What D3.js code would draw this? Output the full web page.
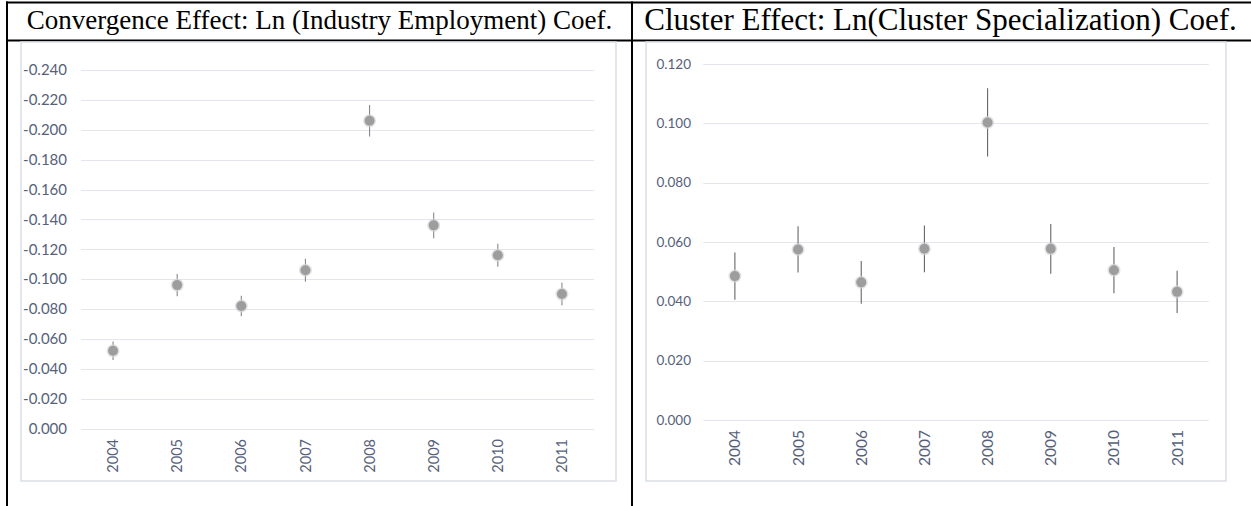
<!DOCTYPE html>
<html>
<head>
<meta charset="utf-8">
<script src="https://cdn.jsdelivr.net/npm/d3@7"></script>
<style>
  html, body { margin: 0; padding: 0; background: #fff; }
  svg { display: block; }
</style>
</head>
<body>
<svg id="fig" width="1251" height="506"></svg>
<script>
// Regression coefficients by year, with half-width of the error bars
const years = ["2004", "2005", "2006", "2007", "2008", "2009", "2010", "2011"];

const convergenceCoef = [-0.052, -0.096, -0.082, -0.106, -0.206, -0.136, -0.116, -0.090];
const convergenceErr  = [0.0062, 0.0074, 0.0068, 0.0077, 0.0106, 0.0086, 0.0077, 0.0075];
const convergenceTicks = [0, -0.02, -0.04, -0.06, -0.08, -0.10, -0.12, -0.14, -0.16, -0.18, -0.20, -0.22, -0.24];

const clusterCoef = [0.0485, 0.0575, 0.0464, 0.0577, 0.1003, 0.0577, 0.0505, 0.0432];
const clusterErr  = [0.0080, 0.0078, 0.0072, 0.0079, 0.0115, 0.0084, 0.0078, 0.0071];
const clusterTicks = [0, 0.02, 0.04, 0.06, 0.08, 0.10, 0.12];

const titles = [
  "Convergence Effect: Ln (Industry Employment) Coef.",
  "Cluster Effect: Ln(Cluster Specialization) Coef."
];

const svg = d3.select("#fig");
const fmt = d => d3.format(".3f")(d).replace("\u2212", "-");

// ---- table frame around the two charts ----
const table = svg.append("g").attr("stroke", "#000").attr("stroke-width", 2);
table.append("line").attr("x1", 6).attr("x2", 1251).attr("y1", 2.5).attr("y2", 2.5);
table.append("line").attr("x1", 6).attr("x2", 1251).attr("y1", 40.5).attr("y2", 40.5);
table.append("line").attr("x1", 7).attr("x2", 7).attr("y1", 1.5).attr("y2", 506);
table.append("line").attr("x1", 632).attr("x2", 632).attr("y1", 1.5).attr("y2", 506);

const titleLayout = [
  { x: 319.5, y: 28.5, size: 27 },
  { x: 940.5, y: 29.5, size: 31 }
];
titles.forEach((t, i) => {
  svg.append("text")
    .attr("x", titleLayout[i].x).attr("y", titleLayout[i].y)
    .attr("text-anchor", "middle")
    .attr("font-family", "'Liberation Serif', 'Times New Roman', serif")
    .attr("font-size", titleLayout[i].size)
    .attr("fill", "#000")
    .text(t);
});

// ---- one coefficient chart ----
function drawChart(cfg) {
  const g = svg.append("g");

  // chart area border
  g.append("rect")
    .attr("x", cfg.frame[0]).attr("y", cfg.frame[1])
    .attr("width", cfg.frame[2] - cfg.frame[0]).attr("height", cfg.frame[3] - cfg.frame[1])
    .attr("fill", "#fff").attr("stroke", "#dadee5").attr("stroke-width", 1.5);

  const x = d3.scaleBand().domain(years).range(cfg.xRange).padding(0);
  const y = d3.scaleLinear().domain(cfg.yDomain).range(cfg.yRange);

  // horizontal gridlines
  g.append("g").selectAll("line").data(cfg.ticks).join("line")
    .attr("x1", cfg.xRange[0]).attr("x2", cfg.xRange[1])
    .attr("y1", d => Math.round(y(d)) + 0.5).attr("y2", d => Math.round(y(d)) + 0.5)
    .attr("stroke", "#e3e6ec").attr("stroke-width", 1.2);

  // value axis labels
  const yAxis = d3.axisLeft(y).tickValues(cfg.ticks).tickFormat(fmt).tickSize(0).tickPadding(0);
  const ya = g.append("g").attr("transform", `translate(${cfg.labelRight},0)`).call(yAxis);
  ya.select(".domain").remove();
  ya.selectAll("text")
    .attr("font-family", "Lato, 'Open Sans', sans-serif")
    .attr("font-size", cfg.yFont)
    .attr("fill", "#56617a");

  // category labels, rotated
  const xAxis = d3.axisBottom(x).tickSize(0).tickPadding(0);
  const xa = g.append("g").attr("transform", `translate(0,${cfg.yRange[0] + cfg.xLabelGap})`).call(xAxis);
  xa.select(".domain").remove();
  xa.selectAll("text")
    .attr("transform", "rotate(-90)")
    .attr("text-anchor", "end")
    .attr("x", 0).attr("y", 0).attr("dy", "0.35em")
    .attr("font-family", "Lato, 'Open Sans', sans-serif")
    .attr("font-size", cfg.xFont)
    .attr("fill", "#56617a");

  const cx = (d, i) => x(years[i]) + x.bandwidth() / 2;

  // error bars
  g.append("g").selectAll("line").data(cfg.values).join("line")
    .attr("x1", cx).attr("x2", cx)
    .attr("y1", (d, i) => y(d - cfg.err[i])).attr("y2", (d, i) => y(d + cfg.err[i]))
    .attr("stroke", cfg.barColor).attr("stroke-width", 1.1);

  // markers with a soft halo
  g.append("g").selectAll("circle").data(cfg.values).join("circle")
    .attr("cx", cx).attr("cy", d => y(d)).attr("r", 6.5)
    .attr("fill", "#d6d6d6").attr("opacity", 0.7);
  g.append("g").selectAll("circle").data(cfg.values).join("circle")
    .attr("cx", cx).attr("cy", d => y(d)).attr("r", 5)
    .attr("fill", "#9d9d9d");
}

drawChart({
  frame: [21, 42, 616, 481],
  xRange: [81, 594],
  yDomain: [0, -0.24],
  yRange: [428.5, 70],
  labelRight: 67,
  ticks: convergenceTicks,
  values: convergenceCoef,
  err: convergenceErr,
  yFont: 15,
  xFont: 14.5,
  xLabelGap: 10.5,
  barColor: "#888"
});

drawChart({
  frame: [646, 42, 1226, 481],
  xRange: [703.3, 1208.7],
  yDomain: [0, 0.12],
  yRange: [420, 64],
  labelRight: 691,
  ticks: clusterTicks,
  values: clusterCoef,
  err: clusterErr,
  yFont: 13.5,
  xFont: 15.5,
  xLabelGap: 10,
  barColor: "#666"
});
</script>
</body>
</html>
